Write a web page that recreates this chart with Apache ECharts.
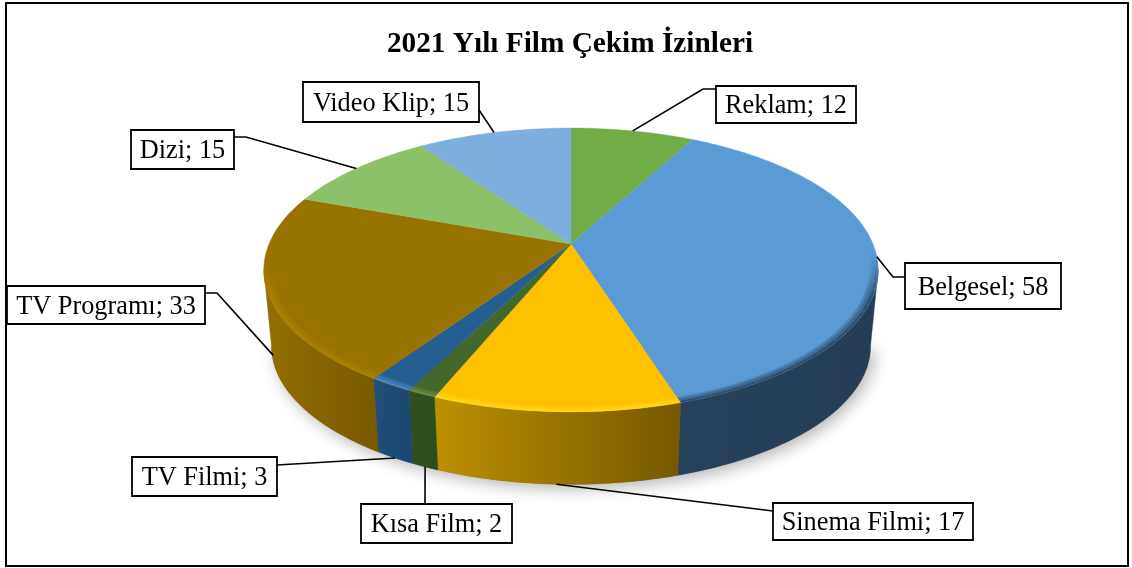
<!DOCTYPE html>
<html><head><meta charset="utf-8">
<style>html,body{margin:0;padding:0;background:#fff}#c{width:1132px;height:568px}</style>
<script src="https://cdn.jsdelivr.net/npm/echarts@6/dist/echarts.min.js"></script>
</head><body><div id="c"></div>
<script>
const titleText = '2021 Yılı Film Çekim İzinleri';
const categories = ['Reklam','Belgesel','Sinema Filmi','Kısa Film','TV Filmi','TV Programı','Dizi','Video Klip'];
const values = [12,58,17,2,3,33,15,15];

// styles per slice
const topColors = ['#70ad47','#5b9bd5','#ffc000','#43682b','#255e91','#997300','#8bc168','#7cafdd'];
const wallLeft  = ['#5a8a39','#27415a','#bd9000','#32501e','#1f4e79','#936e00','#6f9a53','#6490b8'];
const wallRight = ['#5a8a39','#243d55','#755800','#2f4d1c','#1c4870','#775900','#6f9a53','#6490b8'];
const rimColors = ['#70ad47','#2b4a68','#ffd81a','#668f4a','#5088ba','#ad8200','#8bc168','#7cafdd'];
// label box [x0,y0,x1,y1] and leader elbow, separate from the data
const boxes = [[716,86,856,123],[905,263,1061,309],[773,503,973,540],[361,504,512,543],[132,457,277,496],[7,286,205,324],[131,130,234,169],[303,82,479,122]];
const leaderStart = [[716,89],[905,277],[773,511],[425,504],[277,465],[205,293],[234,137],[479,110]];
const leaderElbow = [[703,89],[893,277],null,null,null,[217,293],[246,137],null];
const leaderOnWall = [0,0,1,1,1,0.88,0,0];

// projection of the pie disc (perspective view)
const CX=571, CY=244, AX=302, AY=137.2, K=-0.183, ELL_Y=270, BASE_SCALE=0.975, DEPTH=76;
const total = values.reduce((a,b)=>a+b,0);
const cum=[]; values.reduce((s,v,i)=>(cum[i]=s,s+v),0);
const ang = v => v/total*2*Math.PI;
function topPt(th,r){const u=r*Math.sin(th),v=-r*Math.cos(th),d=1+K*v;return [CX+AX*u/d,CY+AY*v/d];}
function basePt(th,f){f=f===undefined?1:f;const p=topPt(th,1);
  const b=[CX+(p[0]-CX)*BASE_SCALE, ELL_Y+(p[1]-ELL_Y)*BASE_SCALE+DEPTH];
  return [p[0]+(b[0]-p[0])*f,p[1]+(b[1]-p[1])*f];}
function arc(fn,a,b,step){const out=[];const n=Math.max(2,Math.ceil((b-a)/(step||0.02)));for(let i=0;i<=n;i++)out.push(fn(a+(b-a)*i/n));return out;}

// the wall is visible between the two silhouette angles of the projected disc
const WALL_A=Math.acos(K), WALL_B=2*Math.PI-Math.acos(K);
function renderWall(params,api){
  const i=params.dataIndex, a=ang(cum[i]), b=a+ang(api.value(1)), kids=[];
  if(i===0){
    const ring=arc(t=>basePt(t),WALL_A,WALL_B,0.03);
    kids.push({type:'polygon',shape:{points:ring},style:{fill:'#777',shadowBlur:16,shadowColor:'rgba(0,0,0,0.3)',shadowOffsetY:4,shadowOffsetX:4}});
  }
  const s=Math.max(a,WALL_A), e=Math.min(b,WALL_B);
  if(e>s){
    const pts=arc(t=>topPt(t,1),s,e).concat(arc(t=>basePt(t),s,e).reverse());
    const fill={type:'linear',x:0,y:0,x2:1,y2:0,colorStops:[{offset:0,color:wallLeft[i]},{offset:1,color:wallRight[i]}]};
    kids.push({type:'polygon',shape:{points:pts},style:{fill,stroke:fill,lineWidth:0.4}});
  }
  return {type:'group',children:kids};
}
const RIM_BANDS=[[0.972,0.98,0.3],[0.98,0.99,0.6],[0.99,1.0,0.95]];
const RIM_W=1.5;
function rimFade(t){const d=Math.abs(t-Math.PI);const x=(RIM_W-d)/0.3;return Math.max(0,Math.min(1,x));}
function renderTop(params,api){
  const i=params.dataIndex, a=ang(cum[i]), b=a+ang(api.value(1)), kids=[];
  const pts=[[CX,CY]].concat(arc(t=>topPt(t,1),a,b));
  kids.push({type:'polygon',shape:{points:pts},style:{fill:topColors[i],stroke:topColors[i],lineWidth:0.4}});
  const stepA=0.05;
  for(let t=Math.max(a,Math.PI-RIM_W);t<Math.min(b,Math.PI+RIM_W)-1e-4;t+=stepA){
    const t2=Math.min(t+stepA,b), f=rimFade((t+t2)/2);
    RIM_BANDS.forEach(bd=>{
      const p=arc(x=>topPt(x,bd[1]),t,t2,0.03).concat(arc(x=>topPt(x,bd[0]),t,t2,0.03).reverse());
      kids.push({type:'polygon',shape:{points:p},style:{fill:rimColors[i],opacity:bd[2]*f}});
    });
  }
  return {type:'group',children:kids};
}
function renderLabel(params,api){
  const i=params.dataIndex, a=ang(cum[i]), mid=a+ang(api.value(1))/2;
  const box=boxes[i];
  const end=leaderOnWall[i]?basePt(mid,leaderOnWall[i]):topPt(mid,1);
  const line=[leaderStart[i]].concat(leaderElbow[i]?[leaderElbow[i]]:[]).concat([end]);
  return {type:'group',children:[
    {type:'polyline',shape:{points:line},style:{stroke:'#000',lineWidth:1.6,fill:null}},
    {type:'rect',shape:{x:box[0],y:box[1],width:box[2]-box[0],height:box[3]-box[1]},style:{fill:'#fff',stroke:'#000',lineWidth:1.8}},
    {type:'text',style:{x:(box[0]+box[2])/2,y:(box[1]+box[3])/2+2,text:categories[i]+'; '+api.value(1),
      fill:'#000',font:'26.3px "Liberation Serif"',textAlign:'center',textVerticalAlign:'middle',align:'center',verticalAlign:'middle'}}
  ]};
}
const data=categories.map((c,i)=>[c,values[i]]);
const base={type:'custom',coordinateSystem:'none',data,silent:true,animation:false,encode:{value:1}};
const chart=echarts.init(document.getElementById('c'),null,{renderer:'canvas'});
chart.setOption({
  animation:false,backgroundColor:'#fff',
  title:{text:titleText,left:565,top:25,textAlign:'center',textStyle:{fontFamily:'Liberation Serif',fontWeight:'bold',fontSize:29.3,color:'#000'}},
  graphic:[{type:'rect',silent:true,shape:{x:6,y:3,width:1122,height:563},style:{fill:null,stroke:'#000',lineWidth:2},z:100}],
  series:[
    Object.assign({},base,{name:'Duvar',renderItem:renderWall,z:1}),
    Object.assign({},base,{name:'Dilim',renderItem:renderTop,z:2}),
    Object.assign({},base,{name:'Etiket',renderItem:renderLabel,z:3})
  ]
});
</script></body></html>
